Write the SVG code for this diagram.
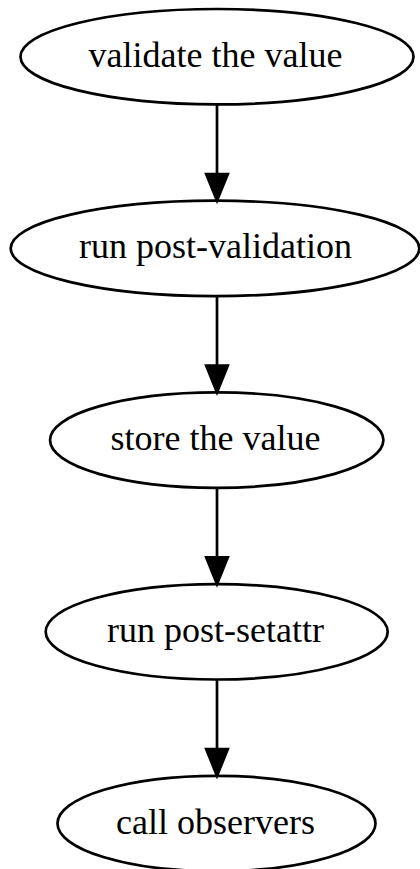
<svg xmlns="http://www.w3.org/2000/svg" width="420" height="869" viewBox="0 0 420 869">
<defs>
<style>
.node ellipse{fill:none;stroke:#000;stroke-width:2.7}
.node text{font-family:"Liberation Serif","Times New Roman",serif;font-size:36px;text-anchor:middle;fill:#000}
.edge line{stroke:#000;stroke-width:2.7}
.edge polygon{fill:#000;stroke:#000;stroke-width:2.7}
</style>
</defs>
<rect width="420" height="869" fill="#fff"/>
<g id="n1" class="node"><ellipse cx="217" cy="56.7" rx="196.5" ry="47.7"/><text x="215.5" y="66.7">validate the value</text></g>
<g id="n2" class="node"><ellipse cx="215" cy="248.4" rx="204.3" ry="47.7"/><text x="215.5" y="258.4">run post-validation</text></g>
<g id="n3" class="node"><ellipse cx="216.7" cy="440.1" rx="166.7" ry="47.7"/><text x="215.5" y="450.1">store the value</text></g>
<g id="n4" class="node"><ellipse cx="216.7" cy="631.8" rx="171" ry="47.7"/><text x="215.5" y="641.8">run post-setattr</text></g>
<g id="n5" class="node"><ellipse cx="216.5" cy="823.5" rx="159" ry="47.7"/><text x="215.5" y="833.5">call observers</text></g>
<g id="edges" class="edge">
<line x1="217" y1="104.4" x2="217" y2="174"/><polygon points="206.2,174 227.8,174 217,200.7"/>
<line x1="217" y1="296.1" x2="217" y2="365.7"/><polygon points="206.2,365.7 227.8,365.7 217,392.4"/>
<line x1="217" y1="487.8" x2="217" y2="557.4"/><polygon points="206.2,557.4 227.8,557.4 217,584.1"/>
<line x1="217" y1="679.5" x2="217" y2="749.1"/><polygon points="206.2,749.1 227.8,749.1 217,775.8"/>
</g>
</svg>
